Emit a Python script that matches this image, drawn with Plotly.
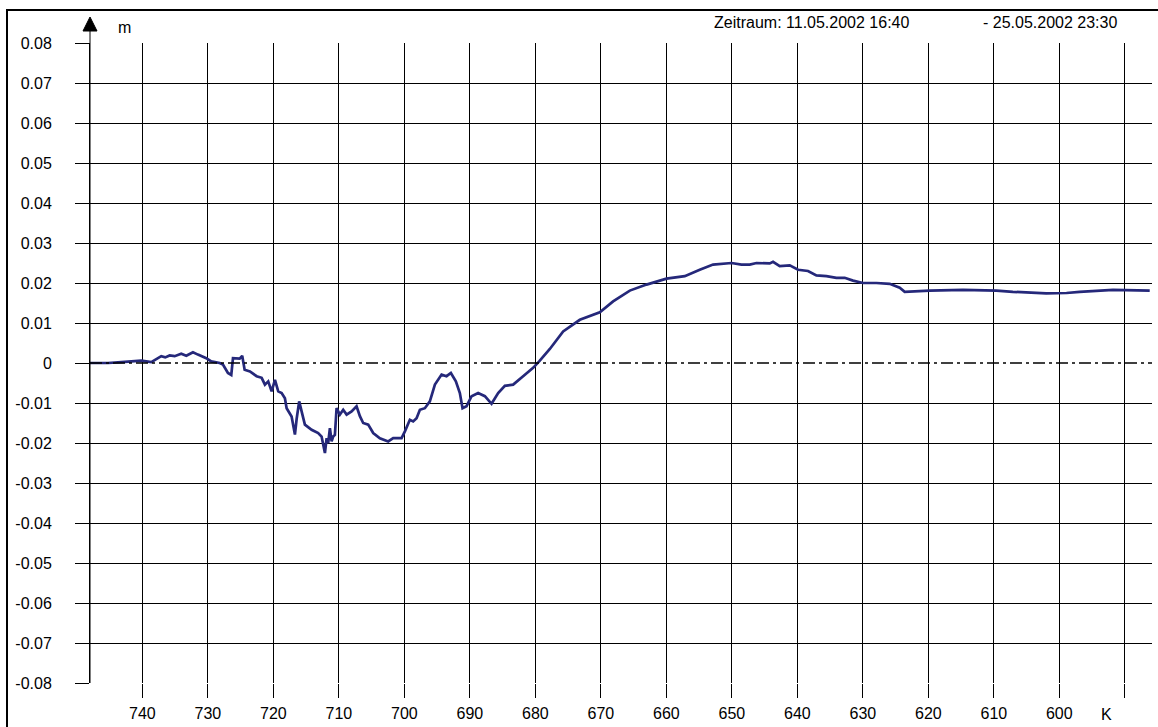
import plotly.graph_objects as go

# ---- data ----
k_values = [748.0, 745.25, 743.22, 740.17, 738.64, 737.88, 737.12, 736.51, 735.84, 735.07,
            734.07, 733.30, 732.28, 731.52, 730.25, 729.49, 728.20, 727.70, 726.94, 726.43,
            726.17, 725.15, 724.76, 724.39, 723.58, 722.56, 721.79, 721.29, 720.79, 720.27,
            719.76, 719.26, 718.74, 718.24, 717.98, 717.22, 716.71, 716.45, 716.06, 715.69,
            715.19, 714.16, 713.16, 712.64, 712.13, 711.87, 711.63, 711.37, 711.11, 710.87,
            710.61, 710.35, 709.85, 709.34, 708.82, 708.06, 707.30, 706.79, 706.29, 705.52,
            704.76, 703.74, 702.47, 701.71, 700.43, 699.92, 699.16, 698.66, 698.14, 697.63,
            696.87, 696.11, 695.34, 694.32, 693.56, 692.90, 692.14, 691.53, 691.12, 690.51,
            689.74, 688.74, 687.71, 686.69, 685.68, 684.66, 683.39, 681.87, 680.34, 679.42,
            677.79, 675.76, 673.21, 670.16, 668.13, 665.58, 663.03, 659.98, 657.19, 654.90,
            652.87, 650.06, 648.53, 647.27, 646.24, 644.22, 643.71, 642.69, 641.16, 639.89,
            638.37, 637.09, 635.56, 634.04, 632.77, 631.50, 629.98, 627.93, 625.90, 624.37,
            623.61, 619.8, 614.7, 609.6, 607.1, 602.0, 598.9, 596.9, 591.8, 586.2]
displacement = [0.0, 0.0, 0.0002, 0.0006, 0.0002, 0.001, 0.0017, 0.0014, 0.0019, 0.0017,
                0.0023, 0.0018, 0.0027, 0.0021, 0.0012, 0.0004, 0.0, -0.0004, -0.0025, -0.003,
                0.0012, 0.0011, 0.0018, -0.0017, -0.0021, -0.0033, -0.0037, -0.0054, -0.0046, -0.0071,
                -0.0042, -0.0071, -0.0075, -0.0088, -0.0113, -0.0134, -0.0179, -0.014, -0.0096, -0.0121,
                -0.0154, -0.0167, -0.0175, -0.0184, -0.0225, -0.0188, -0.020, -0.0163, -0.0196, -0.0184,
                -0.018, -0.0113, -0.0129, -0.0117, -0.0129, -0.0121, -0.0108, -0.0133, -0.015, -0.0154,
                -0.0175, -0.0188, -0.0196, -0.0188, -0.0188, -0.0171, -0.0142, -0.0146, -0.0138, -0.0117,
                -0.0113, -0.0096, -0.0054, -0.0029, -0.0033, -0.0025, -0.0046, -0.0075, -0.0113, -0.0108,
                -0.0083, -0.0075, -0.0083, -0.0102, -0.0075, -0.0057, -0.0054, -0.0033, -0.0012, 0.0004,
                0.0035, 0.0079, 0.0108, 0.0127, 0.0154, 0.0181, 0.0196, 0.0211, 0.0217, 0.0233,
                0.0246, 0.025, 0.0246, 0.0246, 0.025, 0.0249, 0.0253, 0.0242, 0.0244, 0.0233,
                0.023, 0.0219, 0.0217, 0.0213, 0.0213, 0.0206, 0.02, 0.02, 0.0198, 0.0188,
                0.0178, 0.0181, 0.0183, 0.0181, 0.0178, 0.0174, 0.0175, 0.0178, 0.0183, 0.0181]

x_ticks = [740, 730, 720, 710, 700, 690, 680, 670, 660, 650, 640, 630, 620, 610, 600, 590]
x_tick_labels = ["740", "730", "720", "710", "700", "690", "680", "670", "660", "650",
                 "640", "630", "620", "610", "600", ""]
y_ticks = [0.08, 0.07, 0.06, 0.05, 0.04, 0.03, 0.02, 0.01,
           -0.01, -0.02, -0.03, -0.04, -0.05, -0.06, -0.07, -0.08]
y_tick_labels = ["0.08", "0.07", "0.06", "0.05", "0.04", "0.03", "0.02", "0.01",
                 "-0.01", "-0.02", "-0.03", "-0.04", "-0.05", "-0.06", "-0.07", "-0.08"]
x_range = [748.0, 585.85]
y_range = [-0.08, 0.08]

period_start = "Zeitraum: 11.05.2002 16:40"
period_end = "- 25.05.2002 23:30"

FONT = "Liberation Sans, Arial, sans-serif"
W, H = 1158, 727
L, R, T, B = 90, 6, 43, 44
PW, PH = W - L - R, H - T - B


def px(xp):
    return (xp - L) / PW


def py(yp):
    return (H - B - yp) / PH


fig = go.Figure()
fig.add_trace(go.Scatter(x=x_range, y=[0, 0], mode="lines", yaxis="y2",
                         line=dict(color="black", width=1.4, dash="12px,4px,3px,4px"),
                         hoverinfo="skip", showlegend=False))
fig.add_trace(go.Scatter(x=k_values, y=displacement, mode="lines",
                         line=dict(color="#25287A", width=2.7),
                         showlegend=False))

axis_font = dict(family=FONT, size=16, color="black")
fig.update_layout(
    width=W, height=H, autosize=False,
    margin=dict(l=L, r=R, t=T, b=B, pad=0, autoexpand=False),
    paper_bgcolor="white", plot_bgcolor="white",
    font=dict(family=FONT, size=16, color="black"),
    xaxis=dict(range=x_range, tickvals=x_ticks, ticktext=x_tick_labels,
               showgrid=True, gridcolor="black", gridwidth=1,
               ticks="outside", ticklen=14, tickcolor="black", tickwidth=1,
               showline=False, zeroline=False, tickfont=axis_font,
               ticklabelstandoff=2, automargin=False),
    yaxis=dict(range=y_range, tickvals=y_ticks, ticktext=y_tick_labels,
               showgrid=True, gridcolor="black", gridwidth=1,
               ticks="outside", ticklen=14, tickcolor="black", tickwidth=1,
               showline=True, linecolor="black", linewidth=1,
               zeroline=False, tickfont=axis_font, ticklabelstandoff=20,
               automargin=False),
    yaxis2=dict(range=y_range, overlaying="y", side="left",
                tickvals=[0], ticktext=["0"], showgrid=False,
                ticks="outside", ticklen=14, tickcolor="black", tickwidth=1,
                showline=False, zeroline=False, tickfont=axis_font,
                ticklabelstandoff=20, automargin=False),
)

# outer frame, axis extension and arrow head
fig.add_shape(type="rect", xref="paper", yref="paper",
              x0=px(7), y0=py(740), x1=px(1170), y1=py(10),
              line=dict(color="black", width=2), fillcolor="rgba(0,0,0,0)")
fig.add_shape(type="line", xref="paper", yref="paper",
              x0=0, y0=0, x1=0, y1=py(30), line=dict(color="black", width=1))
fig.add_shape(type="path", xref="paper", yref="paper",
              path=f"M {px(90)} {py(17)} L {px(83)} {py(31)} L {px(97)} {py(31)} Z",
              fillcolor="black", line=dict(color="black", width=1))

fig.add_annotation(text="m", xref="paper", yref="paper", x=px(124), y=py(27),
                   xanchor="center", yanchor="middle", showarrow=False,
                   font=dict(family=FONT, size=16, color="black"))
fig.add_annotation(text=period_start, xref="paper", yref="paper", x=px(712), y=py(22),
                   xanchor="left", yanchor="middle", showarrow=False,
                   font=dict(family=FONT, size=16, color="black"))
fig.add_annotation(text=period_end, xref="paper", yref="paper", x=px(981), y=py(22),
                   xanchor="left", yanchor="middle", showarrow=False,
                   font=dict(family=FONT, size=16, color="black"))
fig.add_annotation(text="K", xref="paper", yref="paper", x=px(1106), y=py(714),
                   xanchor="center", yanchor="middle", showarrow=False,
                   font=dict(family=FONT, size=16, color="black"))

fig.write_html("out.html", config={"displayModeBar": False},
               post_script="document.body.style.margin='0';document.body.style.overflow='hidden';")
